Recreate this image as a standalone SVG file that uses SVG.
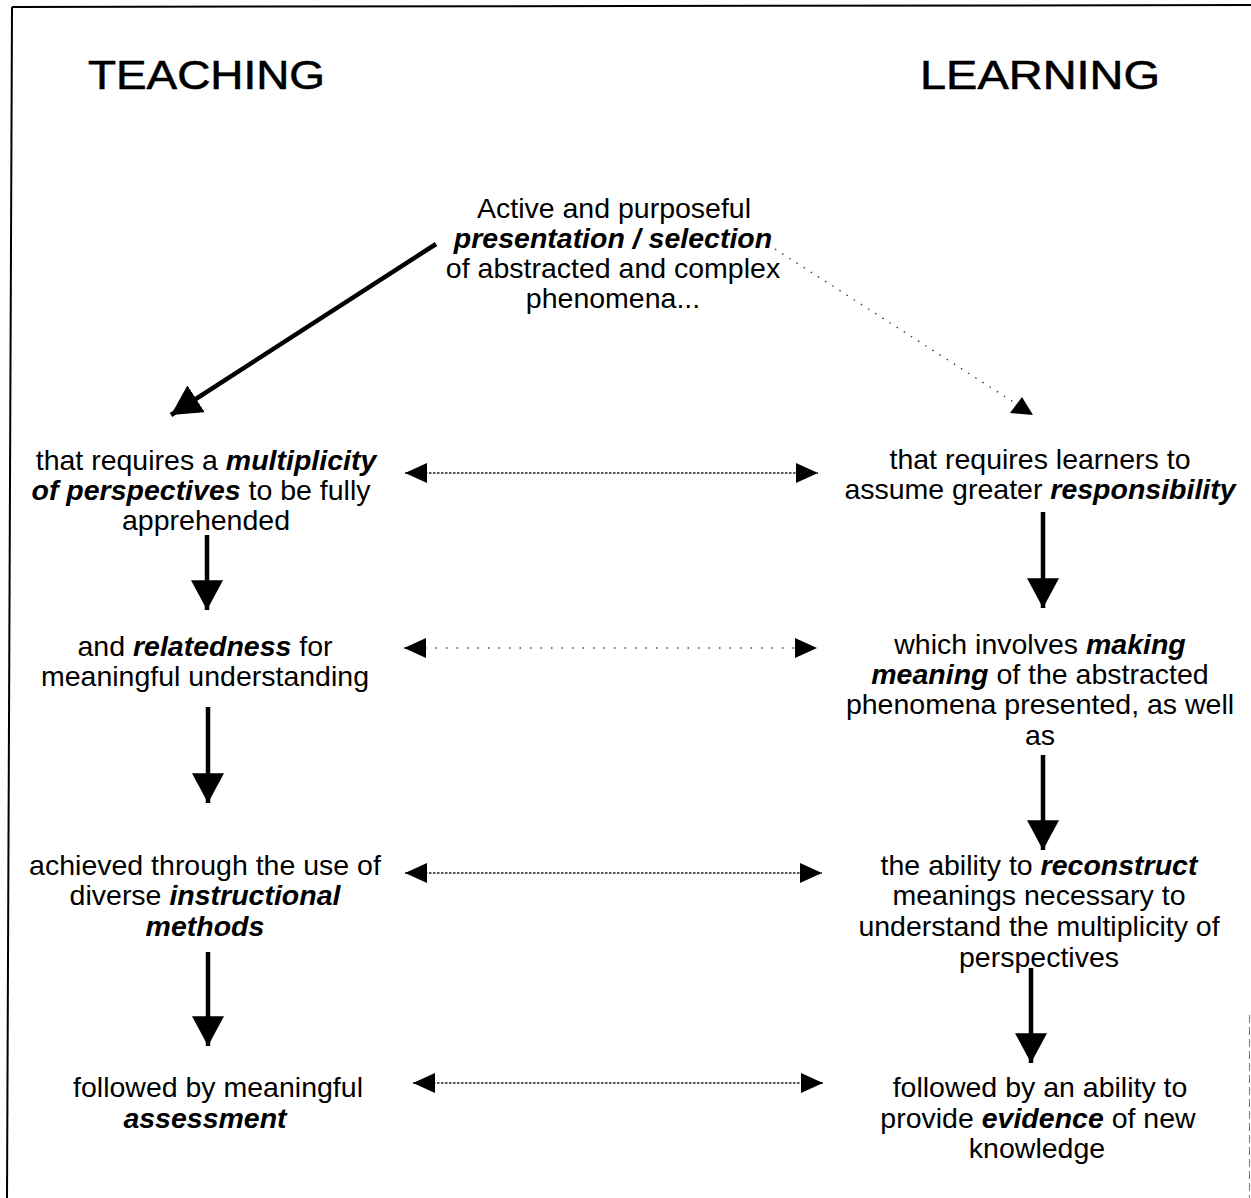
<svg xmlns="http://www.w3.org/2000/svg" width="1251" height="1198" viewBox="0 0 1251 1198">
<style>
  text { font-family: "Liberation Sans", Arial, sans-serif; fill: #000; }
  .t { font-size: 28.5px; text-anchor: middle; }
  .h { font-size: 41px; stroke: #000; stroke-width: 0.6; }
  .b { font-weight: bold; font-style: italic; }
  .solid { stroke: #000; stroke-width: 4.5; fill: none; }
  .dot { stroke: #222; stroke-width: 1.6; stroke-dasharray: 2.5 1.5; fill: none; }
  .sparse { stroke: #444; stroke-width: 1.6; stroke-dasharray: 1.5 9; fill: none; }
</style>
<defs>
  <marker id="big" markerUnits="userSpaceOnUse" markerWidth="32" markerHeight="32" viewBox="0 0 30 30" refX="28" refY="15" orient="auto">
    <path d="M0,0 L28,15 L0,30 Z" fill="#000"/>
  </marker>
  <marker id="small" markerUnits="userSpaceOnUse" markerWidth="22" markerHeight="20" viewBox="0 0 20 18" refX="20" refY="9" orient="auto-start-reverse">
    <path d="M0,0 L20,9 L0,18 Z" fill="#000"/>
  </marker>
</defs>
<rect width="1251" height="1198" fill="#fff"/>
<g id="frame" stroke="#000" fill="none">
  <line x1="12" y1="7" x2="1251" y2="5" stroke-width="2"/>
  <line x1="12" y1="7" x2="7" y2="1198" stroke-width="2"/>
  <line x1="1249.5" y1="1015" x2="1249.5" y2="1198" stroke-width="1" stroke="#777" stroke-dasharray="8 4"/>
</g>
<g id="heading-teaching"><text class="h" x="88" y="89" textLength="237" lengthAdjust="spacingAndGlyphs">TEACHING</text></g>
<g id="heading-learning"><text class="h" x="920" y="89" textLength="240" lengthAdjust="spacingAndGlyphs">LEARNING</text></g>
<g id="node-top">
  <text class="t" x="614" y="218">Active and purposeful</text>
  <text class="t" x="613" y="248"><tspan class="b">presentation / selection</tspan></text>
  <text class="t" x="613" y="278">of abstracted and complex</text>
  <text class="t" x="613" y="308">phenomena...</text>
</g>
<g id="node-t1">
  <text class="t" x="206" y="470">that requires a <tspan class="b">multiplicity</tspan></text>
  <text class="t" x="201" y="500"><tspan class="b">of perspectives</tspan> to be fully</text>
  <text class="t" x="206" y="530">apprehended</text>
</g>
<g id="node-t2">
  <text class="t" x="205" y="656">and <tspan class="b">relatedness</tspan> for</text>
  <text class="t" x="205" y="686">meaningful understanding</text>
</g>
<g id="node-t3">
  <text class="t" x="205" y="875">achieved through the use of</text>
  <text class="t" x="205" y="905">diverse <tspan class="b">instructional</tspan></text>
  <text class="t" x="205" y="936"><tspan class="b">methods</tspan></text>
</g>
<g id="node-t4">
  <text class="t" x="218" y="1097">followed by meaningful</text>
  <text class="t" x="205" y="1128"><tspan class="b">assessment</tspan></text>
</g>
<g id="node-l1">
  <text class="t" x="1040" y="469">that requires learners to</text>
  <text class="t" x="1040" y="499">assume greater <tspan class="b">responsibility</tspan></text>
</g>
<g id="node-l2">
  <text class="t" x="1040" y="654">which involves <tspan class="b">making</tspan></text>
  <text class="t" x="1040" y="684"><tspan class="b">meaning</tspan> of the abstracted</text>
  <text class="t" x="1040" y="714">phenomena presented, as well</text>
  <text class="t" x="1040" y="745">as</text>
</g>
<g id="node-l3">
  <text class="t" x="1039" y="875">the ability to <tspan class="b">reconstruct</tspan></text>
  <text class="t" x="1039" y="905">meanings necessary to</text>
  <text class="t" x="1039" y="936">understand the multiplicity of</text>
  <text class="t" x="1039" y="967">perspectives</text>
</g>
<g id="node-l4">
  <text class="t" x="1040" y="1097">followed by an ability to</text>
  <text class="t" x="1038" y="1128">provide <tspan class="b">evidence</tspan> of new</text>
  <text class="t" x="1037" y="1158">knowledge</text>
</g>
<g id="connectors">
  <line class="solid" x1="436" y1="244" x2="171" y2="415" marker-end="url(#big)"/>
  <line x1="775" y1="249" x2="1018" y2="405" stroke="#333" stroke-width="1.3" stroke-dasharray="1.5 7"/>
  <polygon points="1022,397 1010,413 1033,415" fill="#000"/>
  <line class="solid" x1="207" y1="535" x2="207" y2="610" marker-end="url(#big)"/>
  <line class="solid" x1="208" y1="707" x2="208" y2="803" marker-end="url(#big)"/>
  <line class="solid" x1="208" y1="952" x2="208" y2="1046" marker-end="url(#big)"/>
  <line class="solid" x1="1043" y1="512" x2="1043" y2="608" marker-end="url(#big)"/>
  <line class="solid" x1="1043" y1="755" x2="1043" y2="850" marker-end="url(#big)"/>
  <line class="solid" x1="1031" y1="968" x2="1031" y2="1063" marker-end="url(#big)"/>
  <line class="dot" x1="405" y1="473" x2="818" y2="473" marker-start="url(#small)" marker-end="url(#small)"/>
  <line class="sparse" x1="404" y1="648" x2="817" y2="648" marker-start="url(#small)" marker-end="url(#small)"/>
  <line class="dot" x1="405" y1="873" x2="822" y2="873" marker-start="url(#small)" marker-end="url(#small)"/>
  <line class="dot" x1="413" y1="1083" x2="823" y2="1083" marker-start="url(#small)" marker-end="url(#small)"/>
</g>
</svg>
